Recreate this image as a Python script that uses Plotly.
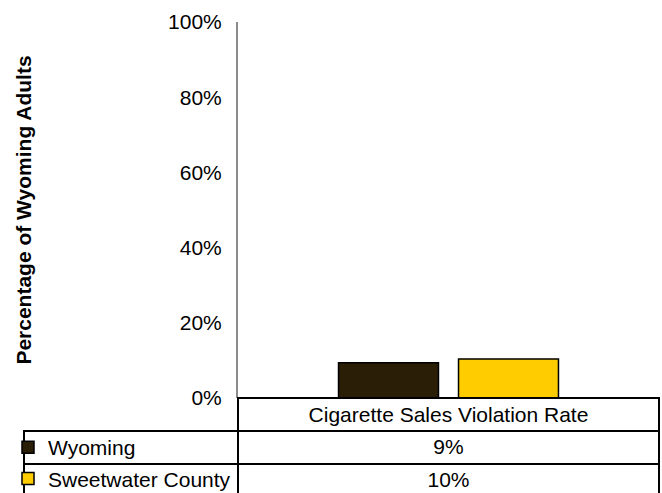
import plotly.graph_objects as go

# ---- data ----
categories = ["Cigarette Sales Violation Rate"]
series_names = ["Wyoming", "Sweetwater County"]
wyoming = [9.4]
sweetwater = [10.4]
y_ticks = [0, 20, 40, 60, 80, 100]
y_tick_labels = ["0%", "20%", "40%", "60%", "80%", "100%"]
colors = ["#2a1e07", "#ffcc00"]
y_title = "Percentage of Wyoming Adults"

# ---- layout geometry (px) ----
W, H = 662, 493
plot_left, plot_right = 238, 659
plot_top, plot_bottom = 22, 398
table_left = 24
FONT = "Liberation Sans, Arial, sans-serif"
FS = 21

fig = go.Figure()
series = [wyoming, sweetwater]
for name, vals, col in zip(series_names, series, colors):
    fig.add_trace(go.Bar(
        x=categories, y=vals, name=name, legendgroup=name,
        marker=dict(color=col, line=dict(color="black", width=1.5)),
        hoverinfo="skip",
    ))

value_col = [f"{s[0]:.0f}%" for s in series]
fig.add_trace(go.Table(
    domain=dict(x=[table_left / W, plot_right / W], y=[0, (H - plot_bottom) / H]),
    columnwidth=[plot_left - table_left, plot_right - plot_left],
    header=dict(
        values=["", categories[0]],
        fill=dict(color=["rgba(0,0,0,0)", "white"]),
        line=dict(color=["rgba(0,0,0,0)", "black"], width=2),
        font=dict(family=FONT, size=FS, color="black"),
        align="center", height=32.5,
    ),
    cells=dict(
        values=[["" for _ in series_names], value_col],
        fill=dict(color="white"),
        line=dict(color="black", width=2),
        font=dict(family=FONT, size=FS, color="black"),
        align="center", height=33,
    ),
))

fig.update_layout(
    width=W, height=H,
    margin=dict(l=0, r=0, t=0, b=0, autoexpand=False),
    paper_bgcolor="white", plot_bgcolor="white",
    barmode="group", bargap=0.43, bargroupgap=0.167,
    font=dict(family=FONT, size=FS, color="black"),
    showlegend=True,
    legend=dict(
        x=8 / W, xanchor="left", y=(H - 427) / H, yanchor="top",
        bgcolor="rgba(0,0,0,0)", font=dict(family=FONT, size=FS, color="black"),
        traceorder="grouped", tracegroupgap=1, itemclick=False,
    ),
    xaxis=dict(
        domain=[plot_left / W, plot_right / W],
        showticklabels=False, showline=False, showgrid=False, zeroline=False,
        fixedrange=True,
    ),
    yaxis=dict(
        domain=[(H - plot_bottom) / H, (H - plot_top) / H],
        range=[0, 100], tickvals=y_ticks, ticktext=y_tick_labels,
        showline=True, linecolor="#8c8c8c", linewidth=2,
        showgrid=False, zeroline=False, ticks="", ticklabelstandoff=10,
        tickfont=dict(family=FONT, size=FS, color="black"),
        title=dict(text=f"<b>{y_title}</b>", font=dict(family=FONT, size=FS, color="black"), standoff=131),
        fixedrange=True,
    ),
)

fig.write_html(
    "out.html",
    config={"displayModeBar": False, "staticPlot": False},
    post_script="document.body.style.margin='0';document.body.style.overflow='hidden';",
)
